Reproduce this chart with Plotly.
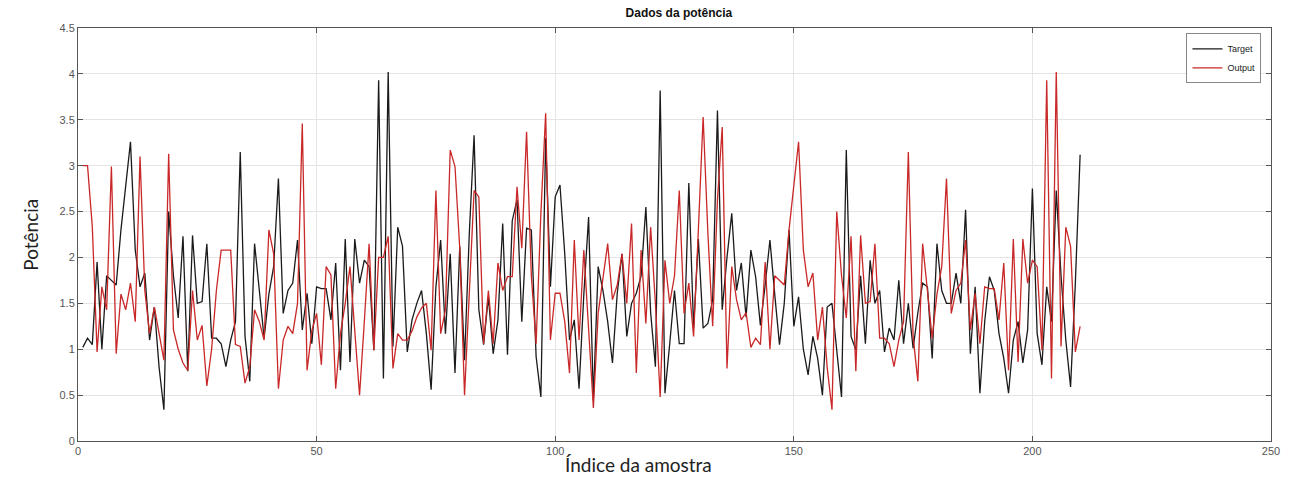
import plotly.graph_objects as go

# Sample index (1..210)
sample_index = list(range(1, 211))

# Target series (black)
target = [
    1.02, 1.12, 1.05, 1.95, 1.00, 1.80, 1.75, 1.70, 2.30, 2.75,
    3.26, 2.08, 1.68, 1.83, 1.10, 1.46, 0.80, 0.34, 2.50, 1.80,
    1.34, 2.23, 0.76, 2.24, 1.50, 1.52, 2.15, 1.12, 1.12, 1.06,
    0.81, 1.10, 1.30, 3.15, 1.14, 0.65, 2.15, 1.64, 1.12, 1.60,
    1.90, 2.86, 1.39, 1.64, 1.72, 2.19, 1.21, 1.61, 1.06, 1.68,
    1.66, 1.66, 1.32, 1.94, 0.77, 2.20, 0.86, 2.20, 1.72, 1.97,
    1.90, 0.99, 3.93, 0.68, 4.02, 1.03, 2.33, 2.12, 0.97, 1.32,
    1.50, 1.64, 1.17, 0.56, 1.68, 2.19, 1.17, 2.04, 0.74, 2.12,
    0.88, 2.26, 3.33, 1.43, 1.05, 1.57, 0.95, 1.32, 2.37, 0.94,
    2.40, 2.63, 1.30, 2.32, 2.30, 0.92, 0.48, 3.30, 1.68, 2.66,
    2.79, 2.04, 1.10, 1.32, 0.57, 1.60, 2.44, 0.45, 1.90, 1.64,
    1.30, 0.85, 1.61, 2.04, 1.14, 1.50, 1.61, 1.80, 2.55, 1.40,
    0.81, 3.82, 0.52, 1.06, 1.64, 1.06, 1.06, 2.81, 1.23, 2.20,
    1.23, 1.28, 1.54, 3.60, 1.43, 2.00, 2.48, 1.64, 1.94, 1.35,
    2.08, 1.79, 1.26, 1.70, 2.19, 1.60, 1.05, 1.50, 2.30, 1.25,
    1.57, 1.00, 0.72, 1.14, 0.90, 0.50, 1.46, 1.50, 0.95, 0.48,
    3.17, 1.14, 0.99, 1.80, 1.06, 1.97, 1.50, 1.64, 0.97, 1.23,
    1.10, 1.75, 1.06, 1.50, 1.01, 1.40, 1.72, 1.68, 0.90, 2.15,
    1.64, 1.50, 1.50, 1.83, 1.50, 2.52, 0.95, 1.68, 0.52, 1.30,
    1.79, 1.64, 1.17, 0.90, 0.52, 1.10, 1.30, 0.85, 1.21, 2.75,
    1.17, 0.83, 1.68, 1.30, 2.73, 1.80, 1.10, 0.59, 1.72, 3.12,
]

# Output series (red)
output = [
    3.00, 3.00, 2.33, 0.97, 1.68, 1.43, 2.99, 0.95, 1.60, 1.43,
    1.72, 1.30, 3.10, 1.64, 1.17, 1.46, 1.17, 0.88, 3.13, 1.21,
    1.00, 0.85, 0.77, 1.64, 1.10, 1.26, 0.60, 1.00, 1.64, 2.08,
    2.08, 2.08, 1.05, 1.03, 0.63, 0.81, 1.43, 1.30, 1.10, 2.30,
    2.04, 0.57, 1.10, 1.25, 1.17, 1.50, 3.46, 0.77, 1.20, 1.39,
    0.83, 1.90, 1.81, 0.57, 1.17, 1.50, 1.90, 1.20, 0.50, 1.30,
    2.15, 0.99, 2.00, 2.00, 2.23, 0.79, 1.17, 1.10, 1.10, 1.20,
    1.35, 1.45, 1.50, 0.99, 2.73, 1.17, 1.43, 3.17, 2.99, 2.10,
    0.50, 1.61, 2.73, 2.66, 1.06, 1.64, 1.06, 1.94, 1.64, 1.79,
    1.79, 2.77, 2.10, 3.37, 1.80, 1.06, 2.48, 3.57, 1.10, 1.61,
    1.61, 1.30, 0.74, 2.19, 1.10, 2.08, 1.20, 0.36, 1.39, 1.80,
    2.15, 1.54, 1.70, 2.04, 1.50, 2.37, 0.74, 2.08, 1.28, 2.33,
    1.50, 0.48, 1.97, 1.50, 1.80, 2.73, 1.39, 1.72, 1.14, 2.30,
    3.53, 2.26, 1.25, 2.63, 3.42, 0.79, 1.90, 1.54, 1.32, 1.40,
    1.02, 1.12, 1.05, 1.95, 1.00, 1.80, 1.75, 1.70, 2.30, 2.75,
    3.26, 2.08, 1.68, 1.83, 1.10, 1.46, 0.80, 0.34, 2.50, 1.80,
    1.34, 2.23, 0.76, 2.24, 1.50, 1.52, 2.15, 1.12, 1.12, 1.06,
    0.81, 1.10, 1.30, 3.15, 1.14, 0.65, 2.15, 1.64, 1.12, 1.60,
    1.90, 2.86, 1.39, 1.64, 1.72, 2.19, 1.21, 1.61, 1.06, 1.68,
    1.66, 1.66, 1.32, 1.94, 0.77, 2.20, 0.86, 2.20, 1.72, 1.97,
    1.90, 0.99, 3.93, 0.68, 4.02, 1.03, 2.33, 2.12, 0.97, 1.25,
]

x_ticks = [0, 50, 100, 150, 200, 250]
y_ticks = [0, 0.5, 1, 1.5, 2, 2.5, 3, 3.5, 4, 4.5]
y_tick_labels = ["0", "0.5", "1", "1.5", "2", "2.5", "3", "3.5", "4", "4.5"]

fig = go.Figure()
fig.add_trace(go.Scatter(x=sample_index, y=target, mode="lines", name="Target",
                         line=dict(color="#1a1a1a", width=1.3)))
fig.add_trace(go.Scatter(x=sample_index, y=output, mode="lines", name="Output",
                         line=dict(color="#c92828", width=1.3)))

axis_common = dict(
    showline=True, linecolor="#555555", linewidth=1, mirror="ticks",
    ticks="inside", ticklen=5, tickcolor="#555555",
    showgrid=True, gridcolor="#e4e4e4", gridwidth=1, zeroline=False,
    tickfont=dict(family="Liberation Sans, Arial", size=11, color="#555555"),
)

fig.update_layout(
    width=1292, height=477,
    margin=dict(l=78, r=12, t=28, b=36),
    paper_bgcolor="white", plot_bgcolor="white",
    title=dict(text="<b>Dados da potência</b>", x=0.5255, xanchor="center",
               y=0.974, yanchor="middle",
               font=dict(family="Liberation Sans, Arial", size=12, color="#111111")),
    xaxis=dict(range=[0, 250], tickvals=x_ticks, **axis_common),
    yaxis=dict(range=[0, 4.5], tickvals=y_ticks, ticktext=y_tick_labels, **axis_common),
    legend=dict(x=0.992, y=0.987, xanchor="right", yanchor="top",
                bgcolor="white", bordercolor="#888888", borderwidth=1,
                font=dict(family="Liberation Sans, Arial", size=9, color="#222222"),
                tracegroupgap=0, itemwidth=30),
    showlegend=True,
    annotations=[
        dict(text="Índice da amostra", xref="paper", yref="paper", x=0.47, y=-0.058,
             xanchor="center", yanchor="middle", showarrow=False,
             font=dict(family="Lato, Open Sans", size=19, color="#222222")),
        dict(text="Potência", xref="paper", yref="paper", x=-0.040, y=0.50,
             xanchor="center", yanchor="middle", textangle=-90, showarrow=False,
             font=dict(family="Lato, Open Sans", size=19, color="#222222")),
    ],
)

fig.write_html("out.html")
